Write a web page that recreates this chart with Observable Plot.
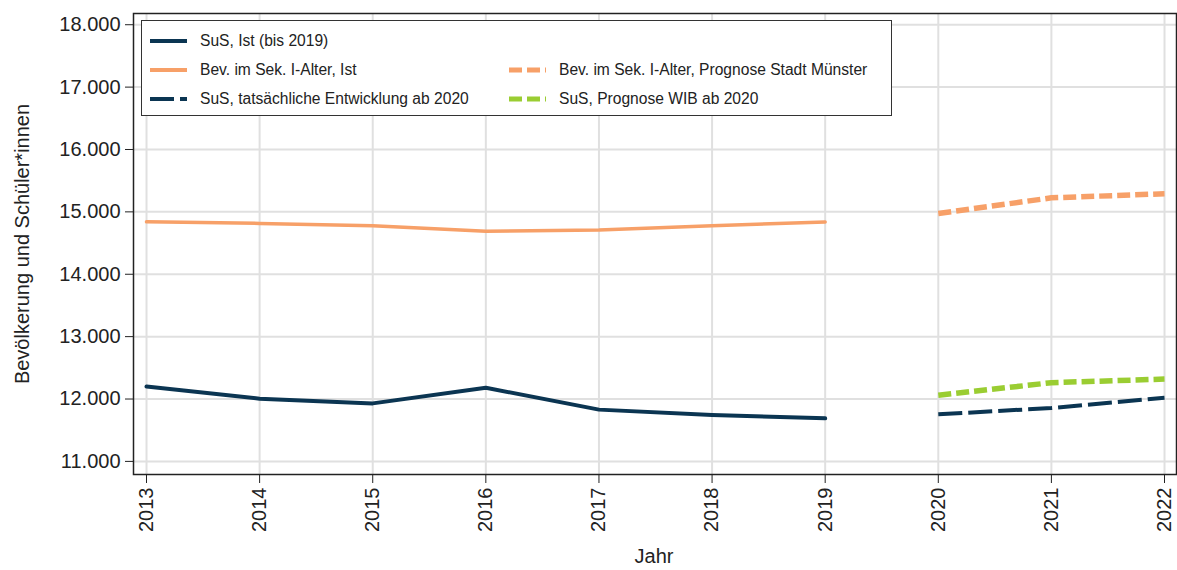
<!DOCTYPE html>
<html>
<head>
<meta charset="utf-8">
<script src="https://cdn.jsdelivr.net/npm/d3@7"></script>
<script src="https://cdn.jsdelivr.net/npm/@observablehq/plot@0.6"></script>
<style>
  html, body { margin: 0; padding: 0; background: #fff; }
  #wrap { position: relative; width: 1177px; height: 570px; font-family: "Liberation Sans", Arial, sans-serif; color: #222; }
  #wrap svg [aria-label="x-axis"] text { font-size: 18px; }
  #wrap svg [aria-label="y-axis"] text { font-size: 20.5px; }
  .ytitle { position: absolute; left: 22px; top: 244px; transform: translate(-50%, -50%) rotate(-90deg); white-space: nowrap; font-size: 20px; }
  .xtitle { position: absolute; left: 654px; top: 545px; transform: translateX(-50%); font-size: 20px; }
  #legend { position: absolute; left: 141px; top: 20px; width: 751px; height: 96px; border: 1.5px solid #333; background: #fff; box-sizing: border-box; }
  .item { position: absolute; display: flex; align-items: center; font-size: 15.6px; white-space: nowrap; }
  .item svg { margin-right: 13px; }
</style>
</head>
<body>
<div id="wrap"></div>
<script>
// ---- data ----
const yearsIst = [2013, 2014, 2015, 2016, 2017, 2018, 2019];
const yearsPrognose = [2020, 2021, 2022];
const susIst = [12200, 12005, 11930, 12180, 11830, 11745, 11690];
const bevIst = [14840, 14815, 14778, 14688, 14708, 14778, 14838];
const bevPrognoseStadt = [14975, 15225, 15290];
const susPrognoseWIB = [12060, 12262, 12320];
const susTatsaechlich = [11755, 11856, 12022];
const xTicks = [2013, 2014, 2015, 2016, 2017, 2018, 2019, 2020, 2021, 2022];
const yTicks = [11000, 12000, 13000, 14000, 15000, 16000, 17000, 18000];
const legendLabels = [
  "SuS, Ist (bis 2019)",
  "Bev. im Sek. I-Alter, Ist",
  "SuS, tatsächliche Entwicklung ab 2020",
  "Bev. im Sek. I-Alter, Prognose Stadt Münster",
  "SuS, Prognose WIB ab 2020"
];

const navy = "#0b3552", orange = "#f7a068", green = "#9acd32";
const toRows = (xs, ys) => xs.map((x, i) => ({x, y: ys[i]}));
const de = d3.formatLocale({decimal: ",", thousands: ".", grouping: [3], currency: ["", "€"]}).format(",");

const chart = Plot.plot({
  width: 1177,
  height: 570,
  marginLeft: 133,
  marginRight: 1,
  marginTop: 13,
  marginBottom: 96,
  style: {fontFamily: "'Liberation Sans', Arial, sans-serif", fontSize: "20px", color: "#222", background: "transparent"},
  x: {domain: [2012.885, 2022.106], ticks: xTicks, tickFormat: d => String(d), tickRotate: -90, tickSize: 9, tickPadding: 4, label: null},
  y: {domain: [10790, 18180], ticks: yTicks, tickFormat: de, tickSize: 8, tickPadding: 5, label: null},
  marks: [
    Plot.ruleX(xTicks, {stroke: "#e0e0e0", strokeWidth: 2}),
    Plot.ruleY(yTicks, {stroke: "#e0e0e0", strokeWidth: 2}),
    Plot.line(toRows(yearsIst, bevIst), {x: "x", y: "y", stroke: orange, strokeWidth: 3.5}),
    Plot.line(toRows(yearsIst, susIst), {x: "x", y: "y", stroke: navy, strokeWidth: 4}),
    Plot.line(toRows(yearsPrognose, bevPrognoseStadt), {x: "x", y: "y", stroke: orange, strokeWidth: 5.5, strokeDasharray: "13,5", strokeLinecap: "butt"}),
    Plot.line(toRows(yearsPrognose, susPrognoseWIB), {x: "x", y: "y", stroke: green, strokeWidth: 5.5, strokeDasharray: "13,5", strokeLinecap: "butt"}),
    Plot.line(toRows(yearsPrognose, susTatsaechlich), {x: "x", y: "y", stroke: navy, strokeWidth: 4, strokeDasharray: "24,6", strokeLinecap: "butt"}),
    Plot.frame({stroke: "#222", strokeWidth: 1.5})
  ]
});

const wrap = document.getElementById("wrap");
wrap.appendChild(chart);

const yt = document.createElement("div");
yt.className = "ytitle";
yt.textContent = "Bevölkerung und Schüler*innen";
wrap.appendChild(yt);
const xt = document.createElement("div");
xt.className = "xtitle";
xt.textContent = "Jahr";
wrap.appendChild(xt);

// legend
const legend = document.createElement("div");
legend.id = "legend";
wrap.appendChild(legend);
const items = [
  {label: legendLabels[0], color: navy, dash: null, w: 4, left: 8, top: 20},
  {label: legendLabels[1], color: orange, dash: null, w: 4, left: 8, top: 49},
  {label: legendLabels[2], color: navy, dash: "24,6", w: 4, left: 8, top: 78},
  {label: legendLabels[3], color: orange, dash: "13,5", w: 5, left: 367, top: 49},
  {label: legendLabels[4], color: green, dash: "13,5", w: 5, left: 367, top: 78}
];
for (const it of items) {
  const d = document.createElement("div");
  d.className = "item";
  d.style.left = it.left + "px";
  d.style.top = (it.top - 10) + "px";
  d.style.height = "20px";
  d.innerHTML = `<svg width="37" height="10"><line x1="0" x2="37" y1="5" y2="5" stroke="${it.color}" stroke-width="${it.w}" ${it.dash ? `stroke-dasharray="${it.dash}"` : ""}/></svg><span>${it.label}</span>`;
  legend.appendChild(d);
}
</script>
</body>
</html>
